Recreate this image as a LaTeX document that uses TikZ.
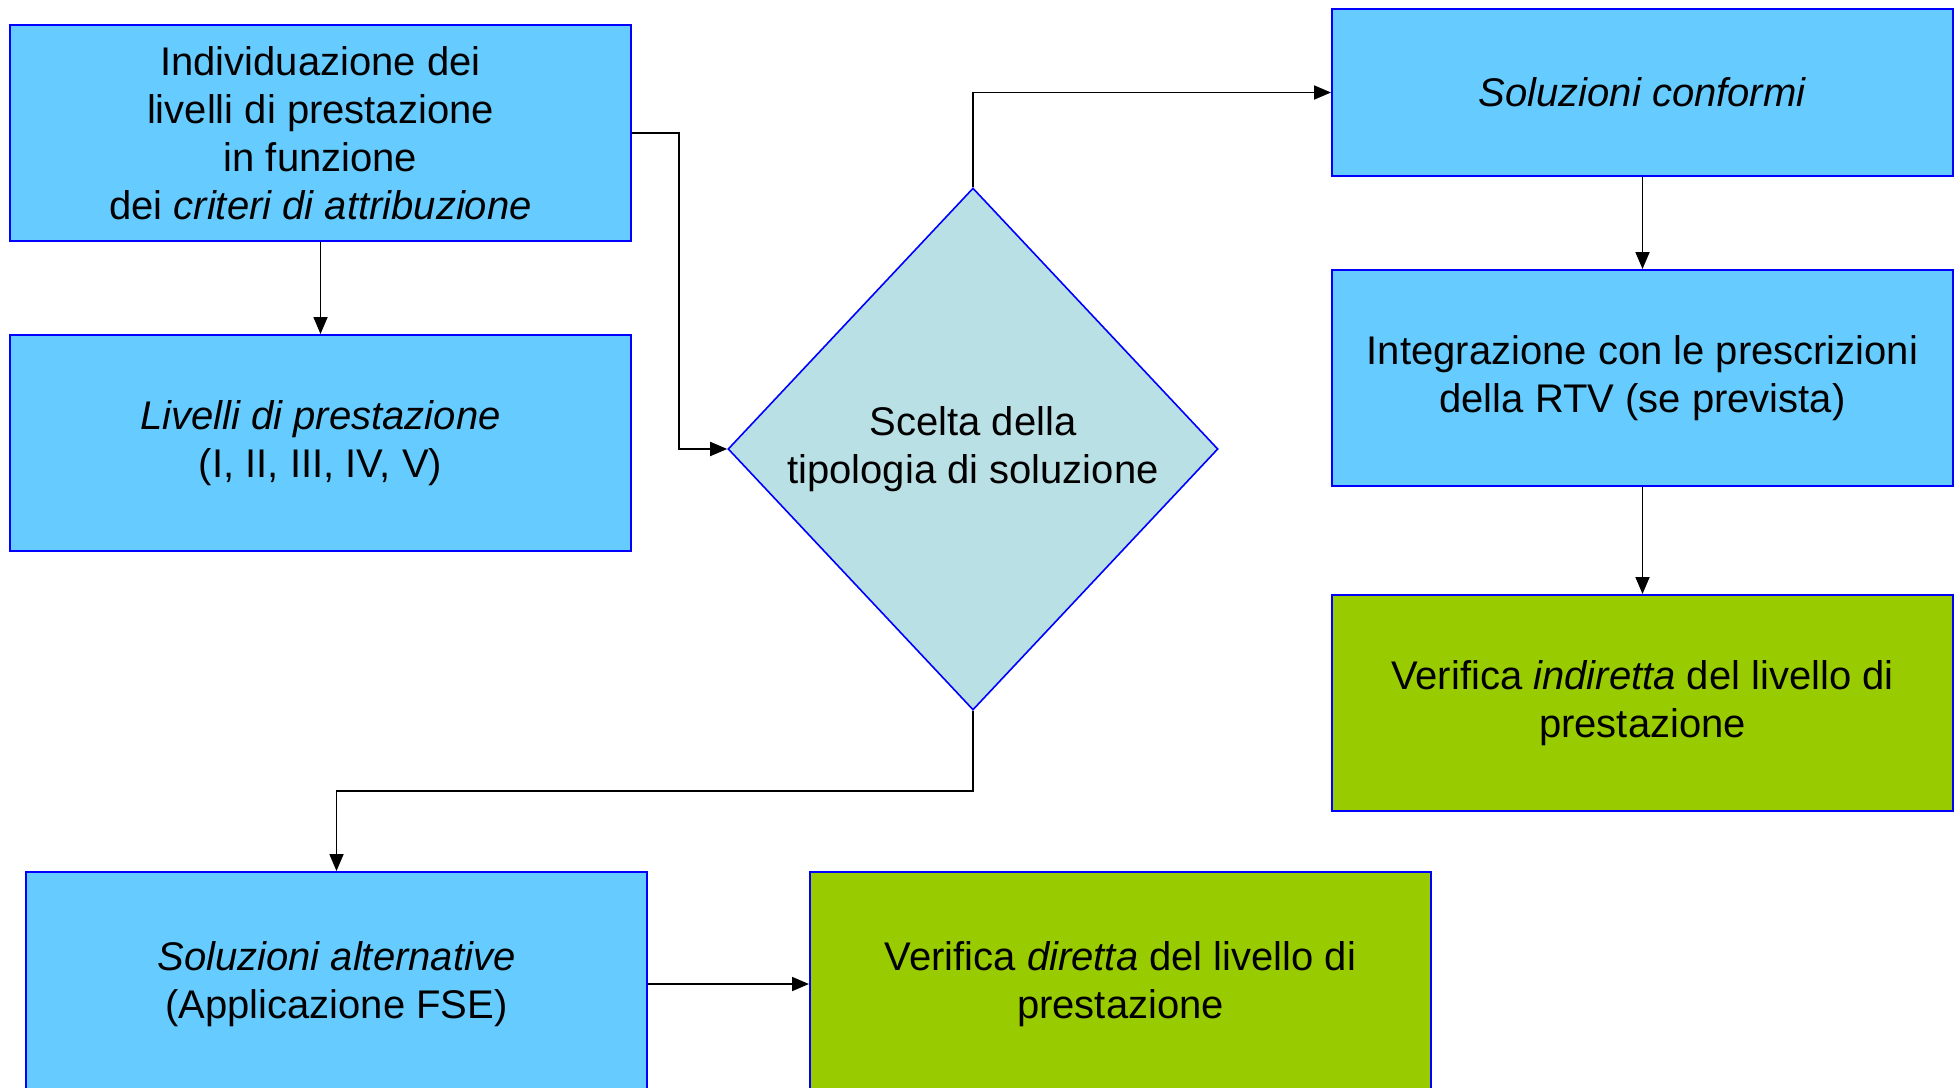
\documentclass[tikz,border=0pt]{standalone}
\usepackage{fontspec}
\setmainfont{Liberation Sans}
\usepackage{xcolor}
\usetikzlibrary{arrows.meta, positioning, shapes.geometric}
\definecolor{boxblue}{RGB}{102, 204, 255}
\definecolor{boxgreen}{RGB}{153, 204, 0}
\definecolor{diamondcyan}{RGB}{185, 224, 229}

\begin{document}
\begin{tikzpicture}[
  node distance=46pt and 80.5pt,
  every node/.style={font=\fontsize{20}{24}\selectfont},
  box/.style={
    draw=blue, fill=boxblue, line width=1pt,
    minimum width=310.5pt, minimum height=108pt,
    align=center, inner sep=4pt
  },
  checkbox/.style={box, fill=boxgreen},
  choice/.style={
    diamond, draw=blue, fill=diamondcyan, line width=0.8pt,
    minimum width=245pt, minimum height=261pt,
    align=center, inner sep=0pt
  },
  arrow/.style={-{Triangle[length=8.5pt, width=7pt]}, line width=0.9pt, color=black}
]

  % cornice della pagina
  \useasboundingbox (0,0) rectangle (979.5pt,-543.5pt);

  % colonna sinistra
  \node[box] (indiv) at (160.25pt,-66.5pt) {Individuazione dei\\livelli di prestazione\\in funzione\\dei \textit{criteri di attribuzione}};
  \node[box, below=of indiv] (livelli) {\textit{Livelli di prestazione}\\(I, II, III, IV, V)};

  % scelta centrale
  \node[choice] (scelta) at (486.5pt,-224.5pt) {Scelta della\\tipologia di soluzione};

  % colonna destra
  \node[box, minimum height=83.5pt] (conformi) at (821.25pt,-46.25pt) {\textit{Soluzioni conformi}};
  \node[box, below=of conformi] (integr) {Integrazione con le prescrizioni\\della RTV (se prevista)};
  \node[checkbox, below=53.5pt of integr] (indiretta) {Verifica \textit{indiretta} del livello di\\prestazione};

  % riga in basso
  \node[box, minimum height=112pt] (altern) at (168.25pt,-492pt) {\textit{Soluzioni alternative}\\(Applicazione FSE)};
  \node[checkbox, minimum height=112pt, right=of altern] (diretta) {Verifica \textit{diretta} del livello di\\prestazione};

  % frecce
  \draw[arrow] (indiv) -- (livelli);
  \draw[arrow] (indiv.east) -- ++(23.5pt,0) |- (scelta.west);
  \draw[arrow] (scelta.north) |- (conformi.west);
  \draw[arrow] (conformi) -- (integr);
  \draw[arrow] (integr) -- (indiretta);
  \draw[arrow] (scelta.south) -- ++(0,-40pt) -| (altern.north);
  \draw[arrow] (altern) -- (diretta);

\end{tikzpicture}
\end{document}
